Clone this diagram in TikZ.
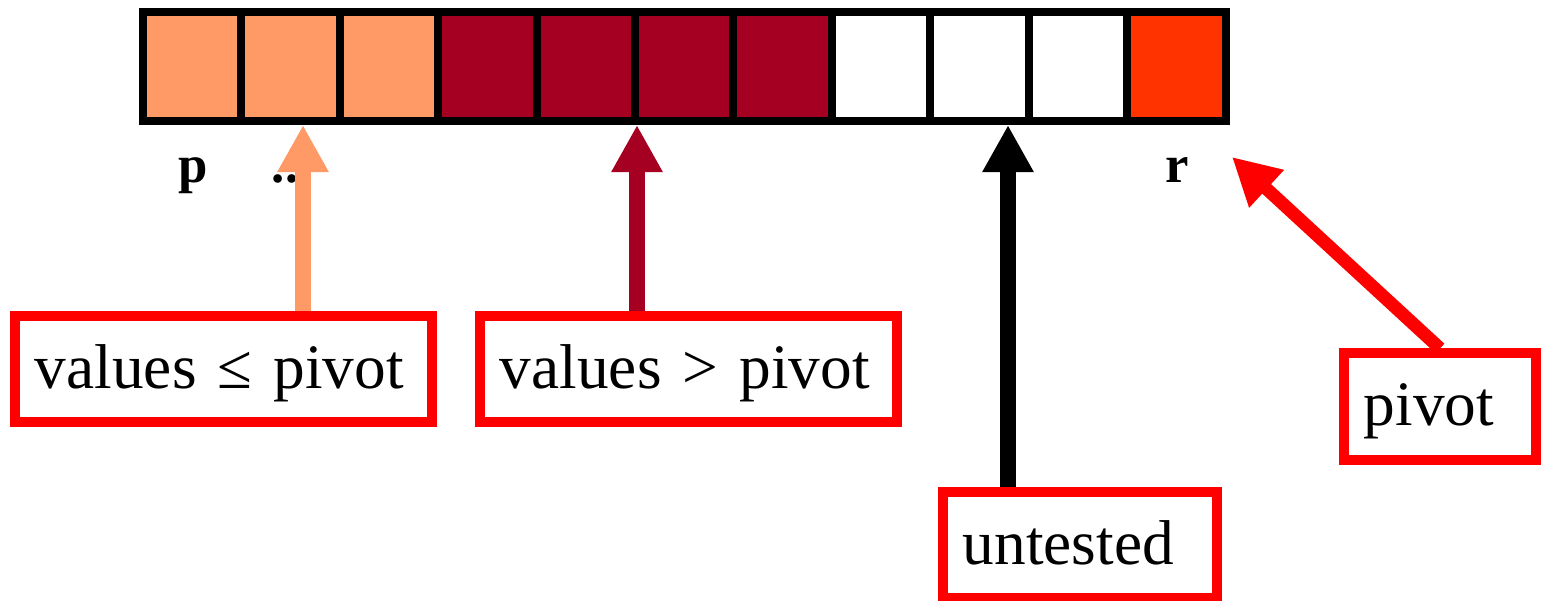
\documentclass[tikz,border=0pt]{standalone}
\usepackage{fontspec}
\setmainfont{Liberation Serif}
\usetikzlibrary{arrows.meta}
\definecolor{lowc}{HTML}{FF9966}
\definecolor{highc}{HTML}{A50021}
\definecolor{pivc}{HTML}{FF3300}
\definecolor{boxred}{HTML}{FF0000}
\tikzset{
  labelbox/.style={draw=boxred, line width=0.1cm, fill=white, inner xsep=0.2cm, inner ysep=0.1cm,
    align=left, text height=0.53cm, text depth=0.15cm, minimum height=1.06cm,
    font=\fontsize{18}{21}\selectfont},
  idx/.style={font=\fontsize{15}{18}\selectfont\bfseries, anchor=base},
  ptr/.style={line width=0.16cm, -{Triangle[length=0.47cm,width=0.48cm]}},
}
\begin{document}
\begin{tikzpicture}[x=0.01cm,y=-0.01cm]
\useasboundingbox (0,0) rectangle (1543,600);
% cells
\foreach \i/\c in {0/lowc,1/lowc,2/lowc,3/highc,4/highc,5/highc,6/highc,7/white,8/white,9/white,10/pivc}{
  \fill[\c] ({143+\i*98.41},12) rectangle ({143+(\i+1)*98.41},121);
}
\foreach \i in {1,...,10}{
  \draw[line width=0.08cm] ({143+\i*98.41},12) -- ({143+\i*98.41},121);
}
\draw[line width=0.08cm] (143,12) rectangle (1225.5,121);
% index labels
\node[idx] (lp) at (193,182) {p};
\node[idx] (ld) at (285,182) {..};
\node[idx] (lr) at (1177,182) {r};
% tips
\coordinate (t1) at (303,125);
\coordinate (t2) at (637,125);
\coordinate (t3) at (1008,125);
\coordinate (t4) at (1232,157);
% boxes
\node[labelbox, text width=3.77cm] (b1) at (223.5,369) {values ≤ pivot};
\node[labelbox, text width=3.77cm] (b2) at (688.5,369) {values > pivot};
\node[labelbox, text width=2.34cm] (b3) at (1080,545) {untested};
\node[labelbox, text width=1.52cm] (b4) at (1440,406.5) {pivot};
% arrows
\draw[ptr, lowc] (t1 |- b1.north) -- (t1);
\draw[ptr, highc] (t2 |- b2.north) -- (t2);
\draw[ptr, black] (t3 |- b3.north) -- (t3);
\draw[ptr, boxred, line width=0.13cm] (b4.north) -- (t4);
\end{tikzpicture}
\end{document}
